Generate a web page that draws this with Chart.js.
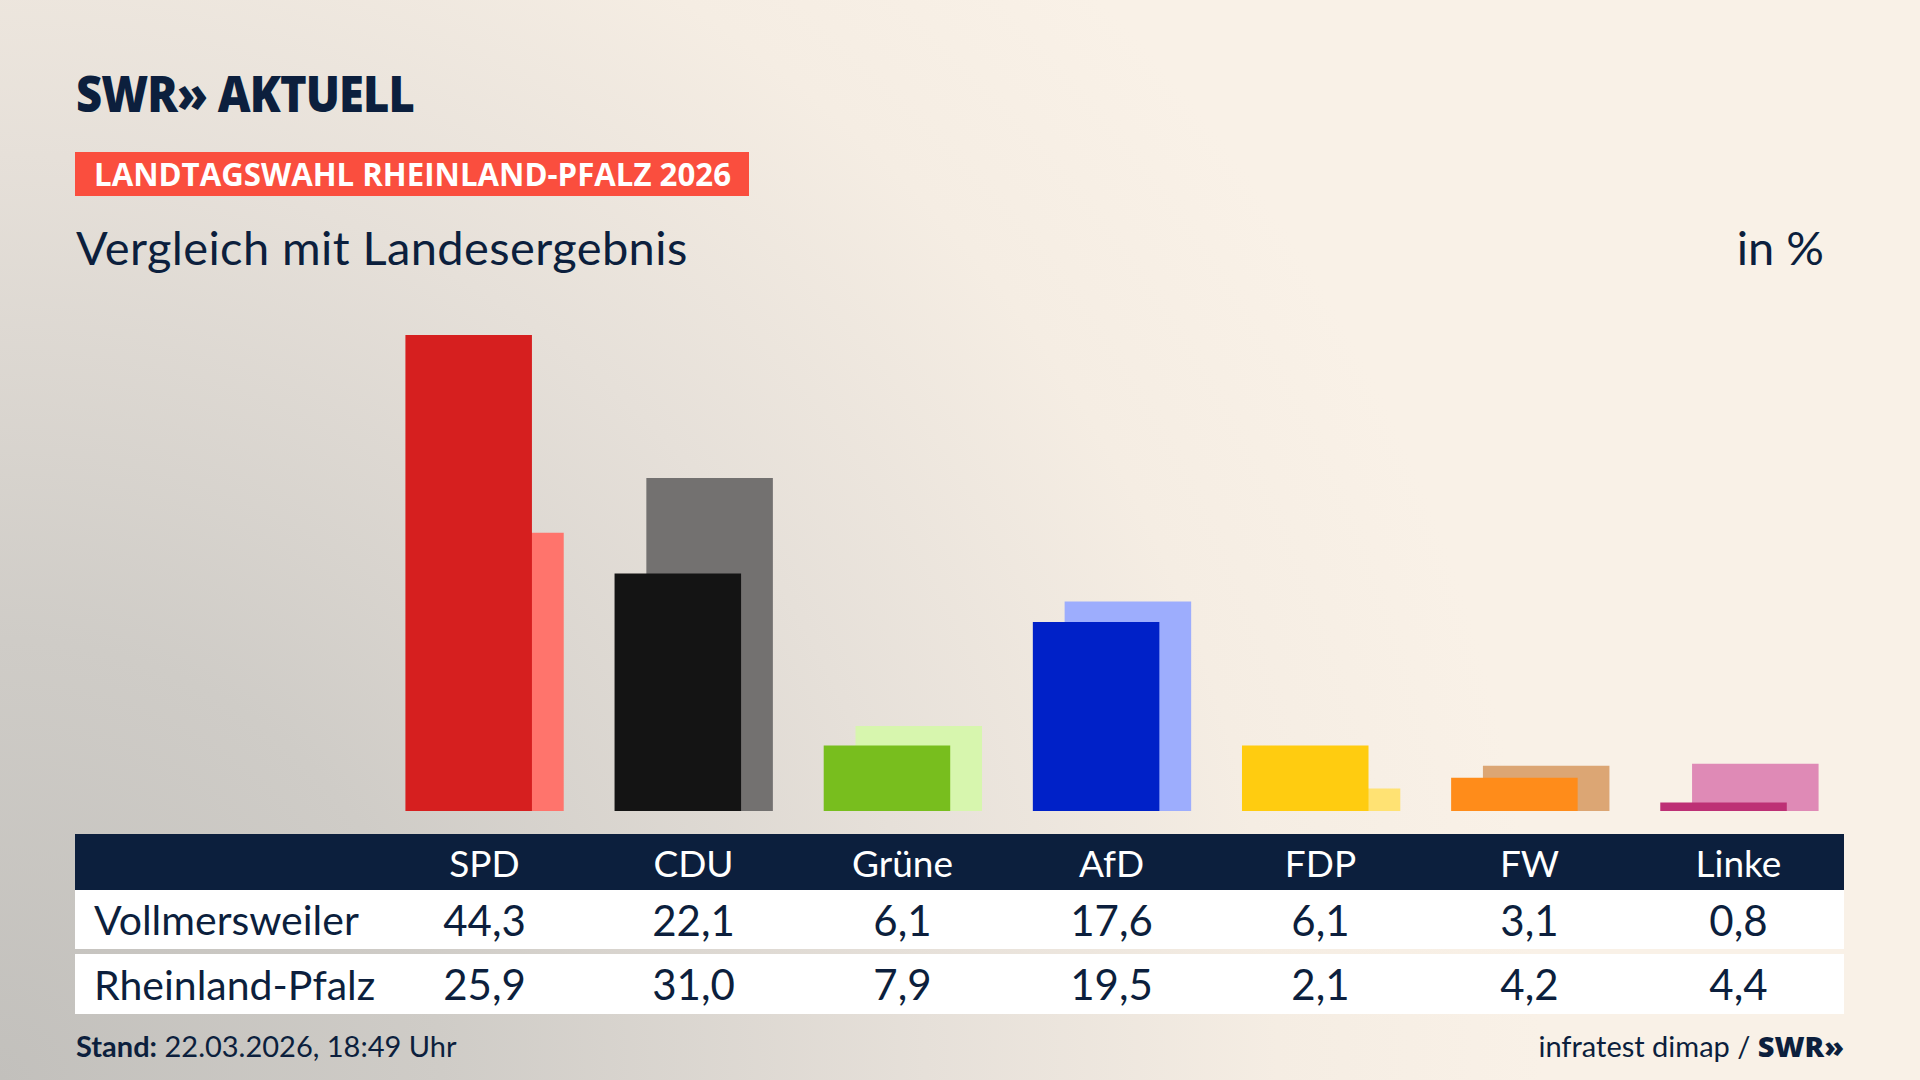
<!DOCTYPE html>
<html lang="de">
<head>
<meta charset="utf-8">
<script src="https://cdn.jsdelivr.net/npm/chart.js@4.4.1/dist/chart.umd.min.js"></script>
<style>
  html, body { margin:0; padding:0; }
  body {
    width:1920px; height:1080px; overflow:hidden; position:relative;
    font-family: Lato, "Open Sans", sans-serif; color:#0c1f3d;
    background: radial-gradient(circle at 0% 100%, #c2c0bc 0%, #cfccc7 20%, #e6e0d9 42%, #f5ede3 58%, #f9f1e7 70%);
  }
  .logo { position:absolute; left:76px; top:66px; font-family:"Open Sans", sans-serif; font-weight:800;
          font-size:50px; line-height:54px; letter-spacing:-1px; transform-origin:left top; transform:scaleX(0.905); color:#0c1f3d; white-space:nowrap; }
  .tag { position:absolute; left:75px; top:152px; width:674px; height:44px; background:#fa4e3e; }
  .tag span { position:absolute; left:19px; top:2px; color:#fff; font-family:"Open Sans", sans-serif; font-weight:700; font-size:32px; line-height:40px;
          transform-origin:left top; transform:scaleX(0.975); white-space:nowrap; }
  .subtitle { position:absolute; left:76px; top:218px; font-size:47px; line-height:58px; letter-spacing:0.4px; white-space:nowrap; }
  .unit { position:absolute; right:96px; top:218px; font-size:47px; line-height:58px; white-space:nowrap; }
  #wrap { position:absolute; left:380px; top:335px; width:1464px; height:476px; }
  .table { position:absolute; left:75px; top:834px; width:1769px; }
  .row { position:relative; display:flex; align-items:center; }
  .row.head { background:#0c1f3d; color:#fff; height:56px; }
  .row.head .cell { font-size:37px; }
  .row.body { background:#fff; height:59px; }
  .row.gap { margin-top:5px; height:60px; }
  .cell0 { width:305px; padding-left:19px; box-sizing:border-box; font-size:41px; }
  .cell { width:209px; text-align:center; font-size:42px; }
  .footer { position:absolute; top:1028px; font-size:29px; line-height:36px; white-space:nowrap; }
  .footer.l { left:76px; }
  .footer.r { right:76px; }
</style>
</head>
<body>
<div class="logo">SWR» AKTUELL</div>
<div class="tag"><span>LANDTAGSWAHL RHEINLAND-PFALZ 2026</span></div>
<div class="subtitle">Vergleich mit Landesergebnis</div>
<div class="unit">in %</div>
<div id="wrap"><canvas id="c"></canvas></div>
<div class="table" id="tbl"></div>
<div class="footer l"><b>Stand:</b> 22.03.2026, 18:49 Uhr</div>
<div class="footer r">infratest dimap / <b style="font-family:'Open Sans',sans-serif;font-weight:800;">SWR»</b></div>
<script>
const parties = ["SPD", "CDU", "Grüne", "AfD", "FDP", "FW", "Linke"];
const rowLabels = ["Vollmersweiler", "Rheinland-Pfalz"];
const vollmersweiler = [44.3, 22.1, 6.1, 17.6, 6.1, 3.1, 0.8];
const rheinlandPfalz = [25.9, 31.0, 7.9, 19.5, 2.1, 4.2, 4.4];
const colorsMain  = ["#d61f1f", "#141414", "#78be1e", "#0021c8", "#ffcc10", "#ff8c1a", "#bd3075"];
const colorsLight = ["#ff746c", "#737170", "#d7f6ae", "#9dadfd", "#ffe273", "#dca674", "#df8ab6"];

// table
const fmt = v => v.toFixed(1).replace('.', ',');
const tbl = document.getElementById('tbl');
let html = '<div class="row head"><div class="cell0"></div>' + parties.map(p => '<div class="cell">' + p + '</div>').join('') + '</div>';
[vollmersweiler, rheinlandPfalz].forEach((vals, i) => {
  html += '<div class="row body' + (i === 1 ? ' gap' : '') + '"><div class="cell0">' + rowLabels[i] + '</div>' +
          vals.map(v => '<div class="cell">' + fmt(v) + '</div>').join('') + '</div>';
});
tbl.innerHTML = html;

new Chart(document.getElementById('c'), {
  type: 'bar',
  data: {
    labels: parties,
    datasets: [
      { label: rowLabels[0], data: vollmersweiler, backgroundColor: colorsMain, borderWidth: 0 },
      { label: rowLabels[1], data: rheinlandPfalz, backgroundColor: colorsLight, borderWidth: 0 }
    ]
  },
  options: {
    responsive: true,
    maintainAspectRatio: false,
    animation: false,
    layout: { padding: 0 },
    categoryPercentage: 0.304,
    barPercentage: 3.98,
    plugins: { legend: { display: false }, tooltip: { enabled: false } },
    scales: {
      x: { display: false, offset: true, grid: { display: false } },
      y: { display: false, min: 0, max: 44.3, grid: { display: false } }
    }
  }
});
</script>
</body>
</html>
